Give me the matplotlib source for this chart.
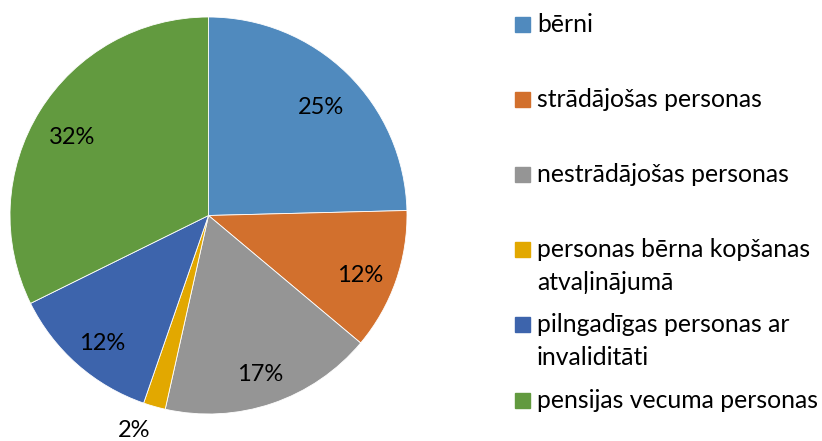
import numpy as np
import matplotlib.pyplot as plt
from matplotlib.patches import Rectangle

# Iedzīvotāju grupas
categories = ['bērni', 'strādājošas personas', 'nestrādājošas personas',
              'personas bērna kopšanas\natvaļinājumā',
              'pilngadīgas personas ar\ninvaliditāti',
              'pensijas vecuma personas']
shares = [24.6, 11.5, 17.4, 1.8, 12.4, 32.3]
colors = ['#508ABE', '#D2702D', '#959595', '#E2A800', '#3D64AC', '#629A3F']

plt.rcParams['font.family'] = ['Lato', 'DejaVu Sans']

fig = plt.figure(figsize=(8.22, 4.41), dpi=100)
ax = fig.add_axes([10 / 822, 27 / 441, 397 / 822, 397 / 441])

wedges, texts, autotexts = ax.pie(shares, colors=colors, startangle=90, counterclock=False,
                                  autopct='%.0f%%', pctdistance=0.81,
                                  wedgeprops=dict(edgecolor='white', linewidth=0.6),
                                  textprops=dict(fontsize=17, color='black'))
for t in autotexts:
    x, y = t.get_position()
    t.set_position((x, y - 0.035))

# mazo sektoru etiķete ārpusē
w = wedges[3]
mid = np.deg2rad((w.theta1 + w.theta2) / 2 - 3)
autotexts[3].set_position((1.16 * np.cos(mid), 1.16 * np.sin(mid) + 0.015))
autotexts[3].set_clip_on(False)

ax.set_xlim(-1, 1)
ax.set_ylim(-1, 1)
ax.set_aspect('equal')

# leģenda (pikseļu koordinātās)
lg = fig.add_axes([0, 0, 1, 1], zorder=-1)
lg.set_xlim(0, 822)
lg.set_ylim(441, 0)
lg.axis('off')
for i, (lab, col) in enumerate(zip(categories, colors)):
    yc = 24 + i * 75.2
    lg.add_patch(Rectangle((515, yc - 7.5), 15, 15, color=col))
    for j, line in enumerate(lab.split('\n')):
        lg.text(537, yc + j * 33, line, fontsize=17.8, va='center', ha='left')

fig.savefig('out.png', dpi=100)
